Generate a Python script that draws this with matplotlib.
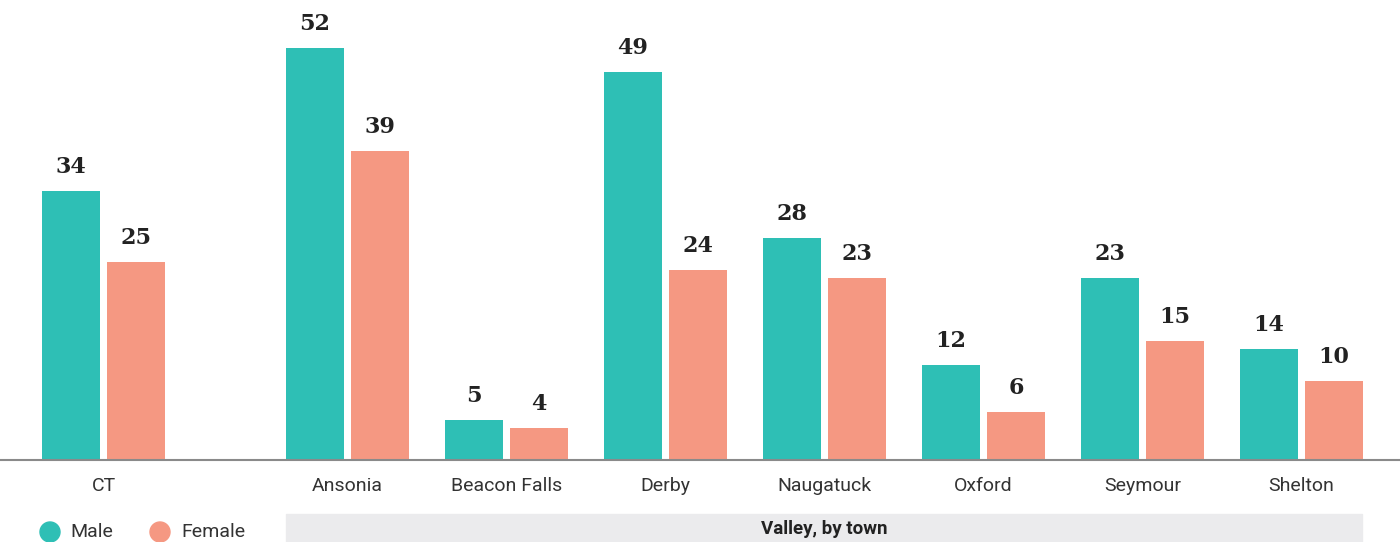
import matplotlib
matplotlib.use("Agg")
import matplotlib.pyplot as plt
from matplotlib.patches import Rectangle, Ellipse

categories = ["CT", "Ansonia", "Beacon Falls", "Derby", "Naugatuck", "Oxford", "Seymour", "Shelton"]
male = [34, 52, 5, 49, 28, 12, 23, 14]
female = [25, 39, 4, 24, 23, 6, 15, 10]
series_names = ["Male", "Female"]
group_label = "Valley, by town"

teal = "#2EBFB5"
salmon = "#F59882"

W, H = 1400, 542
fig = plt.figure(figsize=(W / 100, H / 100), dpi=100)
ax = fig.add_axes([0, (H - 460) / H, 1, 460 / H])

step = 159.0
pos = [0.0] + [244.0 / step + i for i in range(len(categories) - 1)]
bw = 58.0 / step
off = 65.0 / step / 2

for p, m, f in zip(pos, male, female):
    ax.bar(p - off, m, width=bw, color=teal, zorder=2)
    ax.bar(p + off, f, width=bw, color=salmon, zorder=2)
    for xv, v in [(p - off, m), (p + off, f)]:
        ax.annotate(str(v), (xv, v), xytext=(0, 13), textcoords="offset pixels",
                    ha="center", va="bottom", fontsize=16, fontweight="bold",
                    family="DejaVu Serif", color="#222222")

ax.set_xlim(-103.5 / step, (W - 103.5) / step)
ax.set_ylim(0, 460 / 7.92)
ax.set_xticks(pos)
ax.set_xticklabels(categories, fontsize=14, family="Roboto", color="#333333")
ax.tick_params(axis="x", length=0, pad=12)
ax.set_yticks([])
for s in ["top", "right", "left"]:
    ax.spines[s].set_visible(False)
ax.spines["bottom"].set_color("#8A8A8A")
ax.spines["bottom"].set_linewidth(1.5)
ax.spines["bottom"].set_zorder(3)

def fx(px):
    return px / W
def fy(py):
    return 1 - py / H

for cx, tx, col, name in [(50, 70, teal, series_names[0]), (160, 181, salmon, series_names[1])]:
    fig.patches.append(Ellipse((fx(cx), fy(532)), 20 / W, 20 / H,
                               transform=fig.transFigure, color=col))
    fig.text(fx(tx), fy(532), name, ha="left", va="center", fontsize=14,
             family="Roboto", color="#333333")

fig.patches.append(Rectangle((fx(286), 0), (1362 - 286) / W, (542 - 514) / H,
                             transform=fig.transFigure, color="#EBEBED", zorder=0))
fig.text(fx(824), fy(529), group_label, ha="center", va="center", fontsize=13.5,
         fontweight="bold", family="Roboto", color="#222222")

fig.savefig("out.png", dpi=100)
